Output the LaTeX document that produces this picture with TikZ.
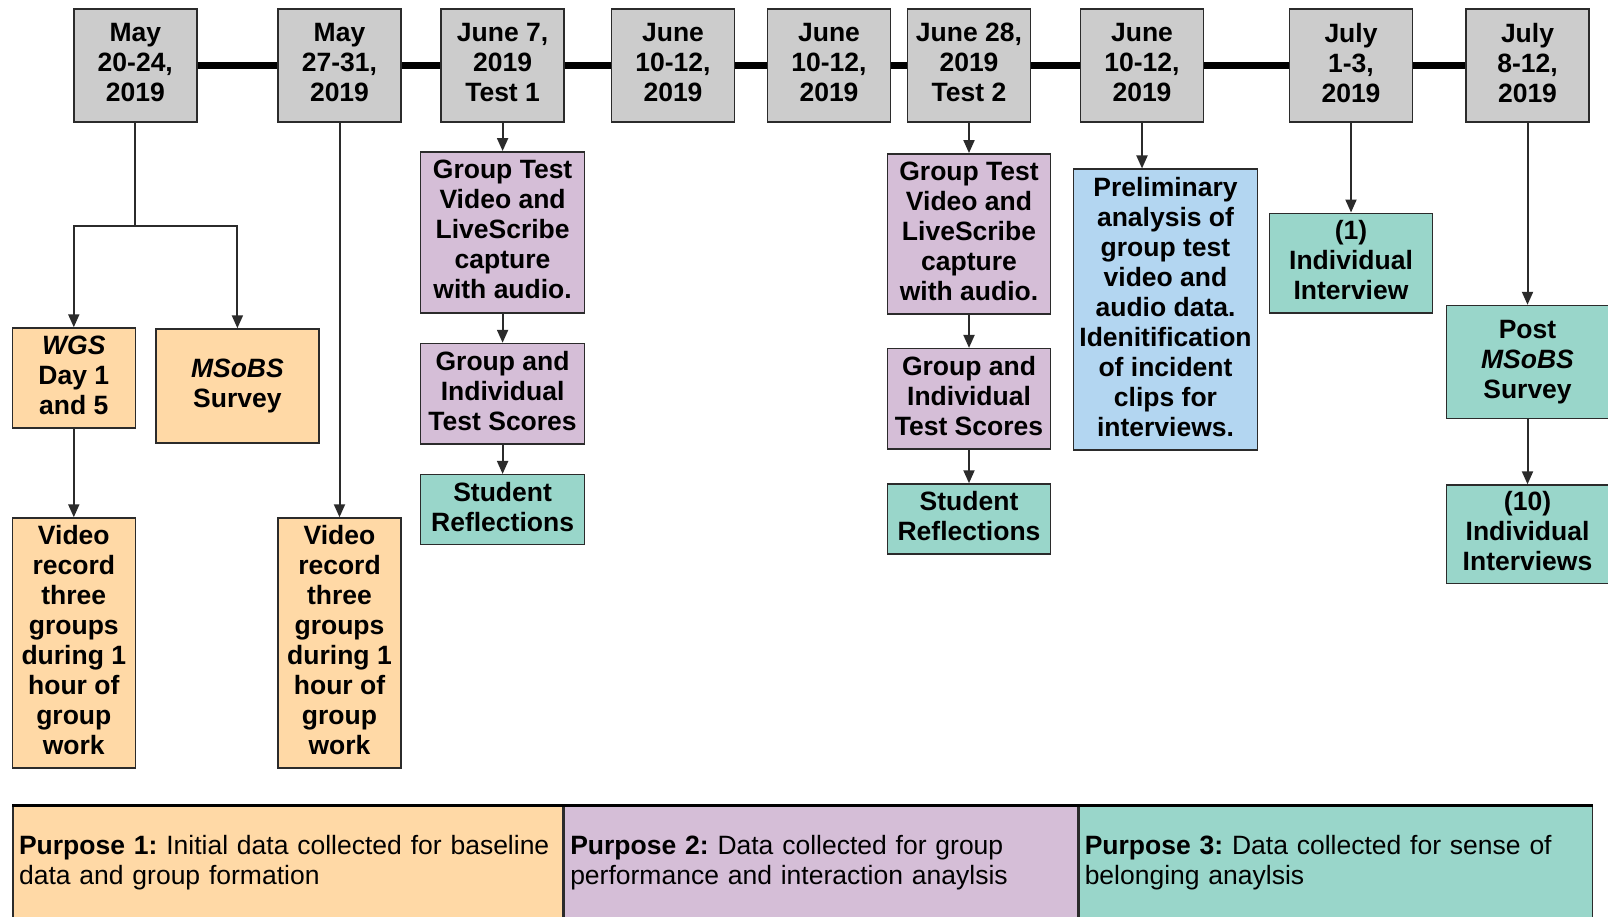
\documentclass[tikz,border=0pt]{standalone}
\usepackage{fontspec}
\setmainfont{Liberation Sans}
\usepackage{tikz}
\usetikzlibrary{arrows.meta}
\definecolor{dategray}{HTML}{CCCCCC}
\definecolor{peach}{HTML}{FFD9A6}
\definecolor{mauve}{HTML}{D5BED7}
\definecolor{seafoam}{HTML}{99D6CA}
\definecolor{skyblue}{HTML}{B3D6F1}
\definecolor{edge}{HTML}{2B2B2B}
\newcommand{\boxfont}{\fontsize{26.5}{30}\selectfont\bfseries}
\newcommand{\legendfont}{\fontsize{26.5}{30}\selectfont\frenchspacing}

\begin{document}
\begin{tikzpicture}[x=1pt,y=-1pt,>={Triangle[length=13pt,width=11pt]},
  datebox/.style={draw=edge,line width=1.5pt,fill=dategray,minimum width=123pt,minimum height=113pt,inner sep=0pt,text depth=6pt,align=center,font=\boxfont},
  evbox/.style={draw=edge,line width=1.5pt,inner sep=0pt,text depth=6pt,align=center,font=\boxfont},
  link/.style={draw=edge,line width=2pt},
  purpose/.style={draw=edge,line width=1.5pt,anchor=north west,minimum height=113pt,inner sep=6pt,align=left,font=\legendfont}]
  \clip (0,0) rectangle (1608,916);
  \fill[white] (0,0) rectangle (1608,916);
  % dates
  \node[datebox] (d1) at (135.3,65.5) {May\\20-24,\\2019};
  \node[datebox] (d2) at (339.5,65.5) {May\\27-31,\\2019};
  \node[datebox] (d3) at (502.6,65.5) {June 7,\\2019\\Test 1};
  \node[datebox] (d4) at (673,65.5) {June\\10-12,\\2019};
  \node[datebox] (d5) at (829,65.5) {June\\10-12,\\2019};
  \node[datebox] (d6) at (969,65.5) {June 28,\\2019\\Test 2};
  \node[datebox] (d7) at (1142,65.5) {June\\10-12,\\2019};
  \node[datebox] (d8) at (1351,65.5) {July\\1-3,\\2019};
  \node[datebox] (d9) at (1527.5,65.5) {July\\8-12,\\2019};
  % timeline
  \draw[line width=6.5pt] (d1) -- (d2) -- (d3) -- (d4) -- (d5) -- (d6) -- (d7) -- (d8) -- (d9);
  % purpose 1: baseline
  \node[evbox,fill=peach,minimum width=123pt,minimum height=100pt] (wgs) at (73.8,378) {\textit{WGS}\\Day 1\\and 5};
  \node[evbox,fill=peach,minimum width=163pt,minimum height=114pt,text depth=5pt] (msobs) at (237.4,386) {\textit{MSoBS}\\Survey};
  \node[evbox,fill=peach,minimum width=123pt,minimum height=250pt] (vid1) at (73.8,643) {Video\\record\\three\\groups\\during 1\\hour of\\group\\work};
  \node[evbox,fill=peach,minimum width=123pt,minimum height=250pt] (vid2) at (339.5,643) {Video\\record\\three\\groups\\during 1\\hour of\\group\\work};
  \coordinate (fork) at (135.3,225.6);
  \draw[link] (d1) -- (fork);
  \draw[link,->] (fork) -| (wgs.north);
  \draw[link,->] (fork) -| (msobs.north);
  \draw[link,->] (wgs) -- (vid1);
  \draw[link,->] (d2) -- (vid2);
  % test 1
  \node[evbox,fill=mauve,minimum width=164pt,minimum height=161pt] (gt1) at (502.6,232.3) {Group Test\\Video and\\LiveScribe\\capture\\with audio.};
  \node[evbox,fill=mauve,minimum width=164pt,minimum height=100.5pt] (gi1) at (502.6,393.8) {Group and\\Individual\\Test Scores};
  \node[evbox,fill=seafoam,minimum width=164pt,minimum height=70pt] (sr1) at (502.6,509.7) {Student\\Reflections};
  \draw[link,->] (d3) -- (gt1);
  \draw[link,->] (gt1) -- (gi1);
  \draw[link,->] (gi1) -- (sr1);
  % test 2
  \node[evbox,fill=mauve,minimum width=163pt,minimum height=160pt] (gt2) at (969,233.8) {Group Test\\Video and\\LiveScribe\\capture\\with audio.};
  \node[evbox,fill=mauve,minimum width=163pt,minimum height=100.5pt] (gi2) at (969,398.9) {Group and\\Individual\\Test Scores};
  \node[evbox,fill=seafoam,minimum width=163pt,minimum height=70pt] (sr2) at (969,519) {Student\\Reflections};
  \draw[link,->] (d6) -- (gt2);
  \draw[link,->] (gt2) -- (gi2);
  \draw[link,->] (gi2) -- (sr2);
  % analysis and interviews
  \node[evbox,fill=skyblue,minimum width=184pt,minimum height=281pt] (prelim) at (1165.5,309.7) {Preliminary\\analysis of\\group test\\video and\\audio data.\\Idenitification\\of incident\\clips for\\interviews.};
  \draw[link,->] (d7) -- (d7 |- prelim.north);
  \node[evbox,fill=seafoam,minimum width=163pt,minimum height=99.5pt] (int1) at (1351,263) {(1)\\Individual\\Interview};
  \draw[link,->] (d8) -- (int1);
  \node[evbox,fill=seafoam,minimum width=162pt,minimum height=113pt,text depth=5pt] (post) at (1527.5,362) {Post\\\textit{MSoBS}\\Survey};
  \node[evbox,fill=seafoam,minimum width=162pt,minimum height=98.5pt] (int10) at (1527.5,534.3) {(10)\\Individual\\Interviews};
  \draw[link,->] (d9) -- (post);
  \draw[link,->] (post) -- (int10);
  % legend
  \node[purpose,fill=peach,minimum width=549.7pt,text width=537.7pt] (p1) at (12.3,805) {\textbf{Purpose 1:} Initial data collected for baseline\\data and group formation};
  \node[purpose,fill=mauve,minimum width=513pt,text width=501pt] (p2) at (p1.north east) {\textbf{Purpose 2:} Data collected for group\\performance and interaction anaylsis};
  \node[purpose,fill=seafoam,minimum width=513.5pt,text width=501.5pt] (p3) at (p2.north east) {\textbf{Purpose 3:} Data collected for sense of\\belonging anaylsis};
  \draw[line width=3pt] (p1.north west) -- (p3.north east);
\end{tikzpicture}
\end{document}
